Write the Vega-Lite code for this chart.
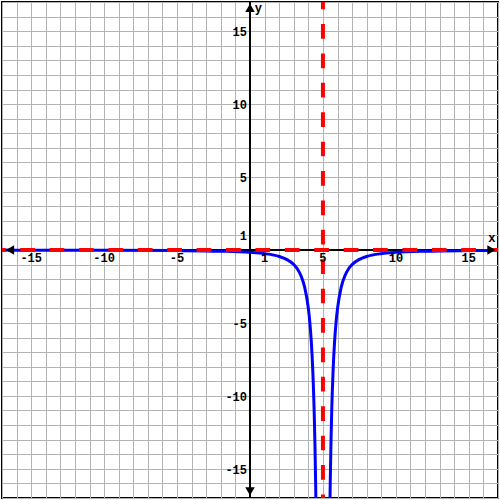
{
  "$schema": "https://vega.github.io/schema/vega-lite/v6.json",
  "width": 500,
  "height": 500,
  "padding": 0,
  "autosize": {"type": "fit", "contains": "padding"},
  "config": {
    "view": {"stroke": "#000000", "strokeWidth": 2},
    "axis": {
      "tickCount": 34, "labels": false, "ticks": false, "domain": false, "title": null,
      "grid": true, "gridColor": "#b3b3b3", "gridWidth": 1, "gridOpacity": 1
    }
  },
  "datasets": {
    "one": [{"a": 0}],
    "curve": [
      {"x": -17, "y": -0.0083, "branch": "left"},
      {"x": -15, "y": -0.01, "branch": "left"},
      {"x": -10, "y": -0.0178, "branch": "left"},
      {"x": -5, "y": -0.04, "branch": "left"},
      {"x": -2, "y": -0.0816, "branch": "left"},
      {"x": 0, "y": -0.16, "branch": "left"},
      {"x": 1, "y": -0.25, "branch": "left"},
      {"x": 2, "y": -0.444, "branch": "left"},
      {"x": 2.5, "y": -0.64, "branch": "left"},
      {"x": 3, "y": -1, "branch": "left"},
      {"x": 3.25, "y": -1.306, "branch": "left"},
      {"x": 3.5, "y": -1.778, "branch": "left"},
      {"x": 3.75, "y": -2.56, "branch": "left"},
      {"x": 4, "y": -4, "branch": "left"},
      {"x": 4.1, "y": -4.938, "branch": "left"},
      {"x": 4.2, "y": -6.25, "branch": "left"},
      {"x": 4.3, "y": -8.163, "branch": "left"},
      {"x": 4.4, "y": -11.11, "branch": "left"},
      {"x": 4.45, "y": -13.22, "branch": "left"},
      {"x": 4.5, "y": -16, "branch": "left"},
      {"x": 4.52, "y": -17.36, "branch": "left"},
      {"x": 5.48, "y": -17.36, "branch": "right"},
      {"x": 5.5, "y": -16, "branch": "right"},
      {"x": 5.55, "y": -13.22, "branch": "right"},
      {"x": 5.6, "y": -11.11, "branch": "right"},
      {"x": 5.7, "y": -8.163, "branch": "right"},
      {"x": 5.8, "y": -6.25, "branch": "right"},
      {"x": 5.9, "y": -4.938, "branch": "right"},
      {"x": 6, "y": -4, "branch": "right"},
      {"x": 6.25, "y": -2.56, "branch": "right"},
      {"x": 6.5, "y": -1.778, "branch": "right"},
      {"x": 6.75, "y": -1.306, "branch": "right"},
      {"x": 7, "y": -1, "branch": "right"},
      {"x": 7.5, "y": -0.64, "branch": "right"},
      {"x": 8, "y": -0.444, "branch": "right"},
      {"x": 9, "y": -0.25, "branch": "right"},
      {"x": 10, "y": -0.16, "branch": "right"},
      {"x": 12, "y": -0.0816, "branch": "right"},
      {"x": 15, "y": -0.04, "branch": "right"},
      {"x": 17, "y": -0.0278, "branch": "right"}
    ],
    "xlabels": [
      {"v": -15, "t": "-15"}, {"v": -10, "t": "-10"}, {"v": -5, "t": "-5"},
      {"v": 1, "t": "1"}, {"v": 5, "t": "5"}, {"v": 10, "t": "10"}, {"v": 15, "t": "15"}
    ],
    "ylabels": [
      {"v": 15, "t": "15"}, {"v": 10, "t": "10"}, {"v": 5, "t": "5"}, {"v": 1, "t": "1"},
      {"v": -5, "t": "-5"}, {"v": -10, "t": "-10"}, {"v": -15, "t": "-15"}
    ],
    "arrows": [
      {"x": -16.45, "y": 0, "shape": "triangle-left"},
      {"x": 16.55, "y": 0, "shape": "triangle-right"},
      {"x": 0, "y": 16.6, "shape": "triangle-up"},
      {"x": 0, "y": -16.55, "shape": "triangle-down"}
    ],
    "names": [
      {"x": 16.58, "y": 0.56, "t": "x"},
      {"x": 0.57, "y": 16.3, "t": "y"}
    ]
  },
  "layer": [
    {
      "data": {"name": "one"},
      "mark": {"type": "rule", "stroke": "#000000", "strokeWidth": 2},
      "encoding": {
        "y": {"datum": 0, "type": "quantitative", "scale": {"domain": [-17, 17], "nice": false, "zero": false}}
      }
    },
    {
      "data": {"name": "one"},
      "mark": {"type": "rule", "stroke": "#000000", "strokeWidth": 2},
      "encoding": {
        "x": {"datum": 0, "type": "quantitative", "scale": {"domain": [-17, 17], "nice": false, "zero": false}}
      }
    },
    {
      "data": {"name": "curve"},
      "mark": {"type": "line", "stroke": "#0000ff", "strokeWidth": 3, "clip": true, "interpolate": "monotone"},
      "encoding": {
        "x": {"field": "x", "type": "quantitative"},
        "y": {"field": "y", "type": "quantitative"},
        "detail": {"field": "branch"}
      }
    },
    {
      "data": {"name": "one"},
      "mark": {"type": "rule", "stroke": "#ff0000", "strokeWidth": 4, "strokeDash": [14.7, 14.7], "strokeDashOffset": 7.35},
      "encoding": {"y": {"datum": 0, "type": "quantitative"}}
    },
    {
      "data": {"name": "one"},
      "mark": {"type": "rule", "stroke": "#ff0000", "strokeWidth": 4, "strokeDash": [14.7, 14.7], "strokeDashOffset": 7.35},
      "encoding": {"x": {"datum": 5, "type": "quantitative"}}
    },
    {
      "data": {"name": "arrows"},
      "mark": {"type": "point", "filled": true, "fill": "#000000", "opacity": 1, "size": 90, "strokeWidth": 0},
      "encoding": {
        "x": {"field": "x", "type": "quantitative"},
        "y": {"field": "y", "type": "quantitative"},
        "shape": {"field": "shape", "type": "nominal", "scale": null, "legend": null}
      }
    },
    {
      "data": {"name": "xlabels"},
      "mark": {"type": "text", "font": "Liberation Mono", "fontWeight": "bold", "fontSize": 12, "fill": "#000000", "align": "center", "baseline": "alphabetic", "dy": 12},
      "encoding": {
        "x": {"field": "v", "type": "quantitative"},
        "y": {"datum": 0, "type": "quantitative"},
        "text": {"field": "t"}
      }
    },
    {
      "data": {"name": "ylabels"},
      "mark": {"type": "text", "font": "Liberation Mono", "fontWeight": "bold", "fontSize": 12, "fill": "#000000", "align": "right", "baseline": "middle", "dx": -3, "dy": 1},
      "encoding": {
        "x": {"datum": 0, "type": "quantitative"},
        "y": {"field": "v", "type": "quantitative"},
        "text": {"field": "t"}
      }
    },
    {
      "data": {"name": "names"},
      "mark": {"type": "text", "font": "Liberation Mono", "fontWeight": "bold", "fontSize": 12, "fill": "#000000", "align": "center", "baseline": "alphabetic"},
      "encoding": {
        "x": {"field": "x", "type": "quantitative"},
        "y": {"field": "y", "type": "quantitative"},
        "text": {"field": "t"}
      }
    }
  ]
}
